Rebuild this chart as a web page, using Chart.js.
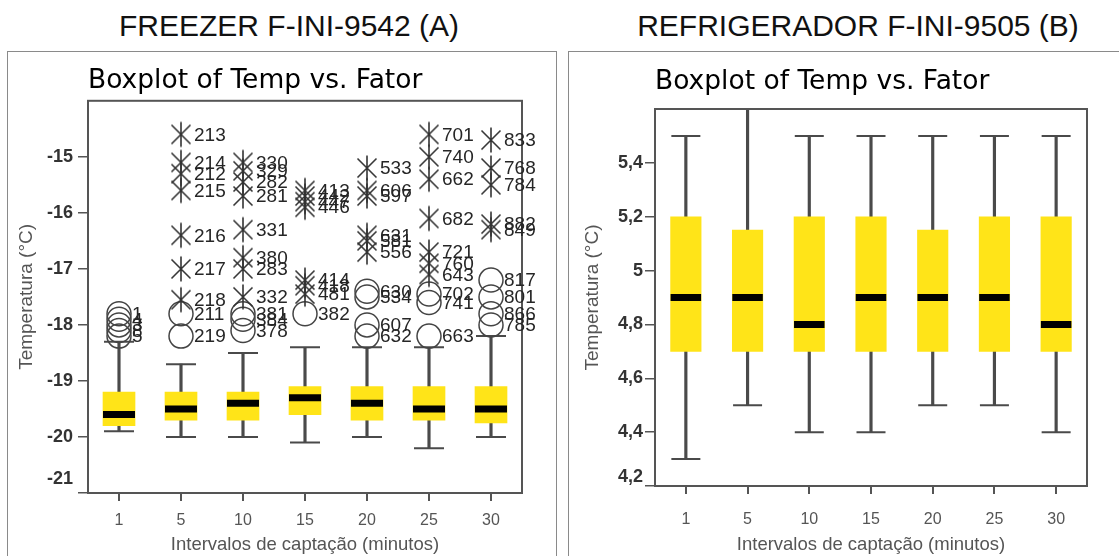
<!DOCTYPE html>
<html><head><meta charset="utf-8">
<script src="https://cdn.jsdelivr.net/npm/chart.js@4.4.1/dist/chart.umd.min.js"></script>
<style>
html,body{margin:0;padding:0;background:#fff;width:1119px;height:556px;overflow:hidden;position:relative;}
.panel{position:absolute;border:1px solid #8a8a8a;box-sizing:border-box;}
.head{position:absolute;font-family:"Liberation Sans",Arial,sans-serif;font-size:30px;color:#111;white-space:nowrap;transform:translateX(-50%);top:8px;line-height:36px;}
canvas{position:absolute;}
</style></head><body>
<div class="head" style="left:289px">FREEZER F-INI-9542 (A)</div>
<div class="head" style="left:858px">REFRIGERADOR F-INI-9505 (B)</div>
<div class="panel" style="left:7px;top:51px;width:550px;height:520px"></div>
<div class="panel" style="left:568px;top:51px;width:560px;height:520px"></div>
<canvas id="cA" width="549" height="504" style="left:8px;top:52px"></canvas>
<canvas id="cB" width="550" height="504" style="left:569px;top:52px"></canvas>
<script>
// ---------- data ----------
const categories = ['1','5','10','15','20','25','30'];

// Freezer (A)
const aWhiskerLow  = [-19.9, -20.0, -20.0, -20.1, -20.0, -20.2, -20.0];
const aQ1          = [-19.8, -19.7, -19.7, -19.6, -19.7, -19.7, -19.75];
const aMedian      = [-19.6, -19.5, -19.4, -19.3, -19.4, -19.5, -19.5];
const aQ3          = [-19.2, -19.2, -19.2, -19.1, -19.1, -19.1, -19.1];
const aWhiskerHigh = [-18.3, -18.7, -18.5, -18.4, -18.4, -18.4, -18.2];

const aStarCat = ['5','5','5','5','5','5','5',
                  '10','10','10','10','10','10','10','10',
                  '15','15','15','15','15','15','15',
                  '20','20','20','20','20','20',
                  '25','25','25','25','25','25','25',
                  '30','30','30','30','30'];
const aStarVal = [-14.6,-15.1,-15.3,-15.6,-16.4,-17.0,-17.55,
                  -15.1,-15.25,-15.45,-15.7,-16.3,-16.8,-17.0,-17.5,
                  -15.6,-15.7,-15.8,-15.9,-17.2,-17.3,-17.45,
                  -15.2,-15.6,-15.7,-16.4,-16.5,-16.7,
                  -14.6,-15.0,-15.4,-16.1,-16.7,-16.9,-17.1,
                  -14.7,-15.2,-15.5,-16.2,-16.3];
const aStarId  = ['213','214','212','215','216','217','218',
                  '330','329','282','281','331','380','283','332',
                  '413','442','447','446','414','418','481',
                  '533','606','597','631','581','556',
                  '701','740','662','682','721','760','643',
                  '833','768','784','882','849'];

const aCircCat = ['1','1','1','1','1','5','5','10','10','10','15','20','20','20','20','25','25','25','30','30','30','30'];
const aCircVal = [-17.8,-17.9,-18.0,-18.1,-18.2,-17.8,-18.2,-17.8,-17.9,-18.1,-17.8,-17.4,-17.5,-18.0,-18.2,-17.45,-17.6,-18.2,-17.2,-17.5,-17.8,-18.0];
const aCircId  = ['1','4','3','8','5','211','219','381','384','378','382','630','534','607','632','702','741','663','817','801','866','785'];

// Refrigerador (B)
const bWhiskerLow  = [4.3, 4.5, 4.4, 4.4, 4.5, 4.5, 4.4];
const bQ1          = [4.7, 4.7, 4.7, 4.7, 4.7, 4.7, 4.7];
const bMedian      = [4.9, 4.9, 4.8, 4.9, 4.9, 4.9, 4.8];
const bQ3          = [5.2, 5.15, 5.2, 5.2, 5.15, 5.2, 5.2];
const bWhiskerHigh = [5.5, 5.6, 5.5, 5.5, 5.5, 5.5, 5.5];

const aTicks = [-21, -20, -19, -18, -17, -16, -15];
const bTicks = [4.2, 4.4, 4.6, 4.8, 5.0, 5.2, 5.4];

// ---------- styling helpers ----------
const SANS = '"Liberation Sans", Arial, sans-serif';
const YELLOW = '#FFE418';
const LINE = '#4a4a4a';
const TICKFONT = {family: SANS, size: 18, weight: 'bold'};

const star = document.createElement('canvas');
star.width = 30; star.height = 30;
(function(){
  const c = star.getContext('2d');
  c.strokeStyle = '#333'; c.lineWidth = 1.6; c.beginPath();
  c.moveTo(15, 2.5); c.lineTo(15, 27.5);
  c.moveTo(5.5, 5.5); c.lineTo(24.5, 24.5);
  c.moveTo(24.5, 5.5); c.lineTo(5.5, 24.5);
  c.stroke();
})();

const frame = {
  id: 'frame',
  afterDatasetsDraw(chart) {
    const a = chart.chartArea, ctx = chart.ctx;
    ctx.save(); ctx.strokeStyle = '#555'; ctx.lineWidth = 2;
    ctx.strokeRect(a.left, a.top, a.right - a.left, a.bottom - a.top);
    ctx.restore();
  }
};
const outlierLabels = {
  id: 'outlierLabels',
  afterDatasetsDraw(chart) {
    const ctx = chart.ctx;
    chart.data.datasets.forEach((ds, di) => {
      if (!ds.ids) return;
      const meta = chart.getDatasetMeta(di);
      ctx.save();
      ctx.font = '19px ' + SANS; ctx.fillStyle = '#262626';
      ctx.textBaseline = 'middle'; ctx.textAlign = 'left';
      meta.data.forEach((pt, i) => ctx.fillText(ds.ids[i], pt.x + 13, pt.y + 1));
      ctx.restore();
    });
  }
};
// the lowest y tick label sits a little above its tick in the reference
const liftedMinLabel = {
  id: 'liftedMinLabel',
  afterDraw(chart, args, opts) {
    const y = chart.scales.y, ctx = chart.ctx;
    ctx.save();
    ctx.font = `${TICKFONT.weight} ${TICKFONT.size}px ${SANS}`;
    ctx.fillStyle = '#333'; ctx.textAlign = 'right'; ctx.textBaseline = 'middle';
    ctx.fillText(opts.text, chart.chartArea.left - 10 - opts.pad, y.getPixelForValue(y.min) - opts.lift);
    ctx.restore();
  }
};

function boxSets(lo, q1, med, q3, hi, boxW, capR) {
  const caps = [];
  categories.forEach((c, i) => { caps.push({x: c, y: lo[i]}); caps.push({x: c, y: hi[i]}); });
  return [
    {type: 'bar', data: categories.map((c, i) => [lo[i], hi[i]]), backgroundColor: LINE,
     barThickness: 2.5, grouped: false, order: 10},
    {type: 'bar', data: categories.map((c, i) => [q1[i], q3[i]]), backgroundColor: YELLOW,
     barThickness: boxW, grouped: false, order: 9},
    {type: 'line', data: caps, showLine: false, pointStyle: 'line', pointRadius: capR,
     borderColor: LINE, pointBorderColor: LINE, pointBorderWidth: 2, order: 8},
    {type: 'line', data: categories.map((c, i) => ({x: c, y: med[i]})), showLine: false,
     pointStyle: 'line', pointRadius: boxW / 2, borderColor: '#000', pointBorderColor: '#000',
     pointBorderWidth: 7, order: 7}
  ];
}

function makeChart(id, cfg) {
  return new Chart(document.getElementById(id), {
    type: 'bar',
    data: {labels: categories, datasets: cfg.datasets},
    options: {
      responsive: false, animation: false, events: [],
      layout: {padding: {top: 0, left: 0, right: cfg.padRight, bottom: 0}},
      plugins: {
        legend: {display: false}, tooltip: {enabled: false},
        title: {display: true, text: 'Boxplot of Temp vs. Fator', align: 'start', fullSize: false,
                color: '#000', font: {family: '"DejaVu Sans", sans-serif', size: 26.5, weight: 'normal'},
                padding: {top: cfg.titleTop, bottom: cfg.titleBottom}},
        liftedMinLabel: {text: cfg.fmt(cfg.min), lift: cfg.lift, pad: cfg.yPad}
      },
      scales: {
        x: {
          type: 'category', offset: true,
          grid: {display: true, drawOnChartArea: false, drawTicks: true, tickLength: 8, offset: false,
                 color: '#555', lineWidth: 2},
          border: {display: false},
          ticks: {color: '#555', font: {family: SANS, size: 16}, padding: cfg.xPad, autoSkip: false, maxRotation: 0},
          title: {display: true, text: 'Intervalos de captação (minutos)', color: '#555',
                  font: {family: SANS, size: 18.5}, padding: 0},
          afterFit(s) { s.height = cfg.xH; }
        },
        y: {
          min: cfg.min, max: cfg.max,
          afterBuildTicks(s) { s.ticks = cfg.ticks.map(v => ({value: v})); },
          ticks: {callback: v => (Math.abs(v - cfg.min) < 1e-9 ? '' : cfg.fmt(v)), color: '#333',
                  font: TICKFONT, padding: cfg.yPad},
          grid: {drawOnChartArea: false, tickLength: 10, color: '#555', lineWidth: 1.5},
          border: {display: false},
          title: {display: true, text: 'Temperatura (°C)', color: '#555', font: {family: SANS, size: 19},
                  padding: {top: cfg.yTitlePad, bottom: 0}},
          afterFit(s) { s.width = cfg.yW; }
        }
      }
    },
    plugins: [frame, outlierLabels, liftedMinLabel]
  });
}

const dsA = boxSets(aWhiskerLow, aQ1, aMedian, aQ3, aWhiskerHigh, 32, 15).concat([
  {type: 'line', data: aCircCat.map((c, i) => ({x: c, y: aCircVal[i]})), ids: aCircId, showLine: false,
   pointStyle: 'circle', pointRadius: 12, backgroundColor: 'rgba(0,0,0,0)', pointBackgroundColor: 'rgba(0,0,0,0)',
   borderColor: '#444', pointBorderColor: '#444', pointBorderWidth: 1.5, order: 2},
  {type: 'line', data: aStarCat.map((c, i) => ({x: c, y: aStarVal[i]})), ids: aStarId, showLine: false,
   pointStyle: star, order: 1}
]);

makeChart('cA', {
  datasets: dsA, padRight: 35, titleTop: 13, titleBottom: 4, xH: 63, yW: 80, xPad: 10, yPad: 5,
  yTitlePad: 7, min: -21, max: -14, ticks: aTicks, lift: 14, fmt: v => String(v)
});

makeChart('cB', {
  datasets: boxSets(bWhiskerLow, bQ1, bMedian, bQ3, bWhiskerHigh, 30.5, 14.5),
  padRight: 32, titleTop: 14.5, titleBottom: 10.7, xH: 70, yW: 86, xPad: 16, yPad: 2,
  yTitlePad: 12, min: 4.2, max: 5.6, ticks: bTicks, lift: 9,
  fmt: v => (Math.round(v * 10) / 10).toString().replace('.', ',')
});
</script>
</body></html>
